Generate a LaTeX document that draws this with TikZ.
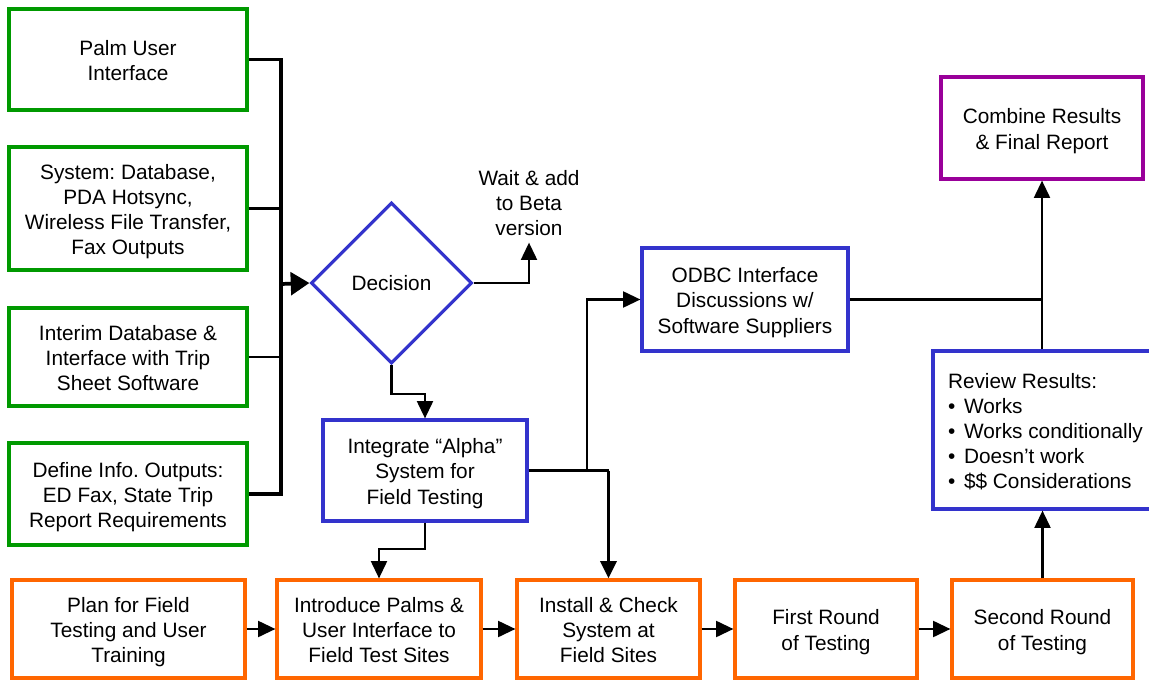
\documentclass[tikz,border=0pt]{standalone}
\usepackage{fontspec}
\setmainfont{Liberation Sans}
\usetikzlibrary{arrows.meta,shapes.geometric}
\definecolor{boxgreen}{RGB}{0,153,0}
\definecolor{boxblue}{RGB}{51,51,204}
\definecolor{boxpurple}{RGB}{153,0,153}
\definecolor{boxorange}{RGB}{255,102,0}
% centred lines of box text, set a little below the box centre
\newcommand\lines[1]{\raisebox{-2.6pt}[\height][\depth]{\begin{tabular}{@{}c@{}}#1\end{tabular}}}
\begin{document}
\begin{tikzpicture}[x=0.75pt,y=-0.75pt,
  every node/.style={font=\fontsize{15.6pt}{18.8pt}\selectfont\frenchspacing, align=center, inner sep=0pt},
  % a rectangle given by its left, top, right and bottom edges
  span/.style n args={4}{minimum width={(#3-#1)*0.75pt}, minimum height={(#4-#2)*0.75pt},
    at={(#1/2+#3/2, #2/2+#4/2)}},
  gbox/.style={draw=boxgreen, line width=2.4pt, rectangle},
  bbox/.style={draw=boxblue, line width=2.4pt, rectangle},
  pbox/.style={draw=boxpurple, line width=2.4pt, rectangle},
  obox/.style={draw=boxorange, line width=2.4pt, rectangle},
  conn/.style={line width=1.6pt},
  arr/.style={line width=1.6pt, -{Triangle[length=13pt,width=12pt]}},
  brk/.style={line width=2.8pt},
]
\clip (0,0) rectangle (1149,681);

% requirement boxes
\node[gbox, span={9}{9}{247}{110}] (n1) {\lines{Palm User\\Interface}};
\node[gbox, span={9}{147}{247}{270}] (n2) {\lines{System: Database,\\PDA Hotsync,\\Wireless File Transfer,\\Fax Outputs}};
\node[gbox, span={9}{308}{247}{406}] (n3) {\lines{Interim Database \&\\Interface with Trip\\Sheet Software}};
\node[gbox, span={9}{443}{247}{545}] (n4) {\lines{Define Info. Outputs:\\ED Fax, State Trip\\Report Requirements}};

% decision
\node[draw=boxblue, line width=2.4pt, diamond, minimum width=120.75pt, minimum height=120.75pt] (dec) at (391.5,283) {Decision};
\node[inner sep=5pt] (wait) at (529,203) {Wait \& add\\to Beta\\version};

% alpha system and ODBC
\node[bbox, span={323}{420}{527}{521}] (integ) {\lines{Integrate “Alpha”\\System for\\Field Testing}};
\node[bbox, span={642}{248}{848}{351}] (odbc) {\lines{ODBC Interface\\Discussions w/\\Software Suppliers}};

% results
\node[pbox, span={941}{77}{1143}{179}] (comb) {\lines{Combine Results\\\& Final Report}};
\node[bbox, span={933}{351}{1179}{509}] (review) {\raisebox{-1.5pt}[\height][\depth]{%
\begin{minipage}{162pt}\raggedright Review Results:\\
•\hspace{0.42em}Works\\•\hspace{0.42em}Works conditionally\\•\hspace{0.42em}Doesn’t work\\•\hspace{0.42em}\$\$ Considerations\end{minipage}}};

% field testing row
\node[obox, span={12}{580}{245}{678}] (plan) {\lines{Plan for Field\\Testing and User\\Training}};
\node[obox, span={277}{580}{481}{678}] (intro) {\lines{Introduce Palms \&\\User Interface to\\Field Test Sites}};
\node[obox, span={517}{580}{700}{678}] (install) {\lines{Install \& Check\\System at\\Field Sites}};
\node[obox, span={735}{580}{917}{678}] (first) {\lines{First Round\\of Testing}};
\node[obox, span={952}{580}{1133}{678}] (second) {\lines{Second Round\\of Testing}};

% bracket joining the requirement boxes
\coordinate (bus) at (281,284);
\draw[brk] (n1.east) -- (n1.east -| bus) -- (n4.east -| bus) -- (n4.east);
\draw[brk] (n2.east) -- (n2.east -| bus);
\draw[conn] (n3.east) -- (n3.east -| bus);
\draw[line width=2.8pt, -{Triangle[length=14pt,width=17pt]}] (bus) -- (dec.west);

% decision outputs
\draw[arr] (dec.east) -| (wait.south);
\draw[arr] (dec.south) -- ++(0,29) -| (integ.north);

% alpha system outputs
\draw[conn] (integ.east) -- (integ.east -| install.north);
\draw[line width=2.8pt, -{Triangle[length=13pt,width=12pt]}] (integ.east -| install.north) -- (install.north);
\draw[arr] (integ.east) ++(58,0) |- (odbc.west);
\draw[arr] (integ.south) -- ++(0,26) -| (intro.north);

% field testing chain
\draw[arr] (plan.east) -- (intro.west);
\draw[arr] (intro.east) -- (install.west);
\draw[arr] (install.east) -- (first.west);
\draw[arr] (first.east) -- (second.west);
\draw[arr] (second.north) -- (second.north |- review.south);

% towards the final report
\draw[conn] (odbc.east) -- (odbc.east -| comb.south);
\draw[arr] (comb.south |- review.north) -- (comb.south);
\end{tikzpicture}
\end{document}
